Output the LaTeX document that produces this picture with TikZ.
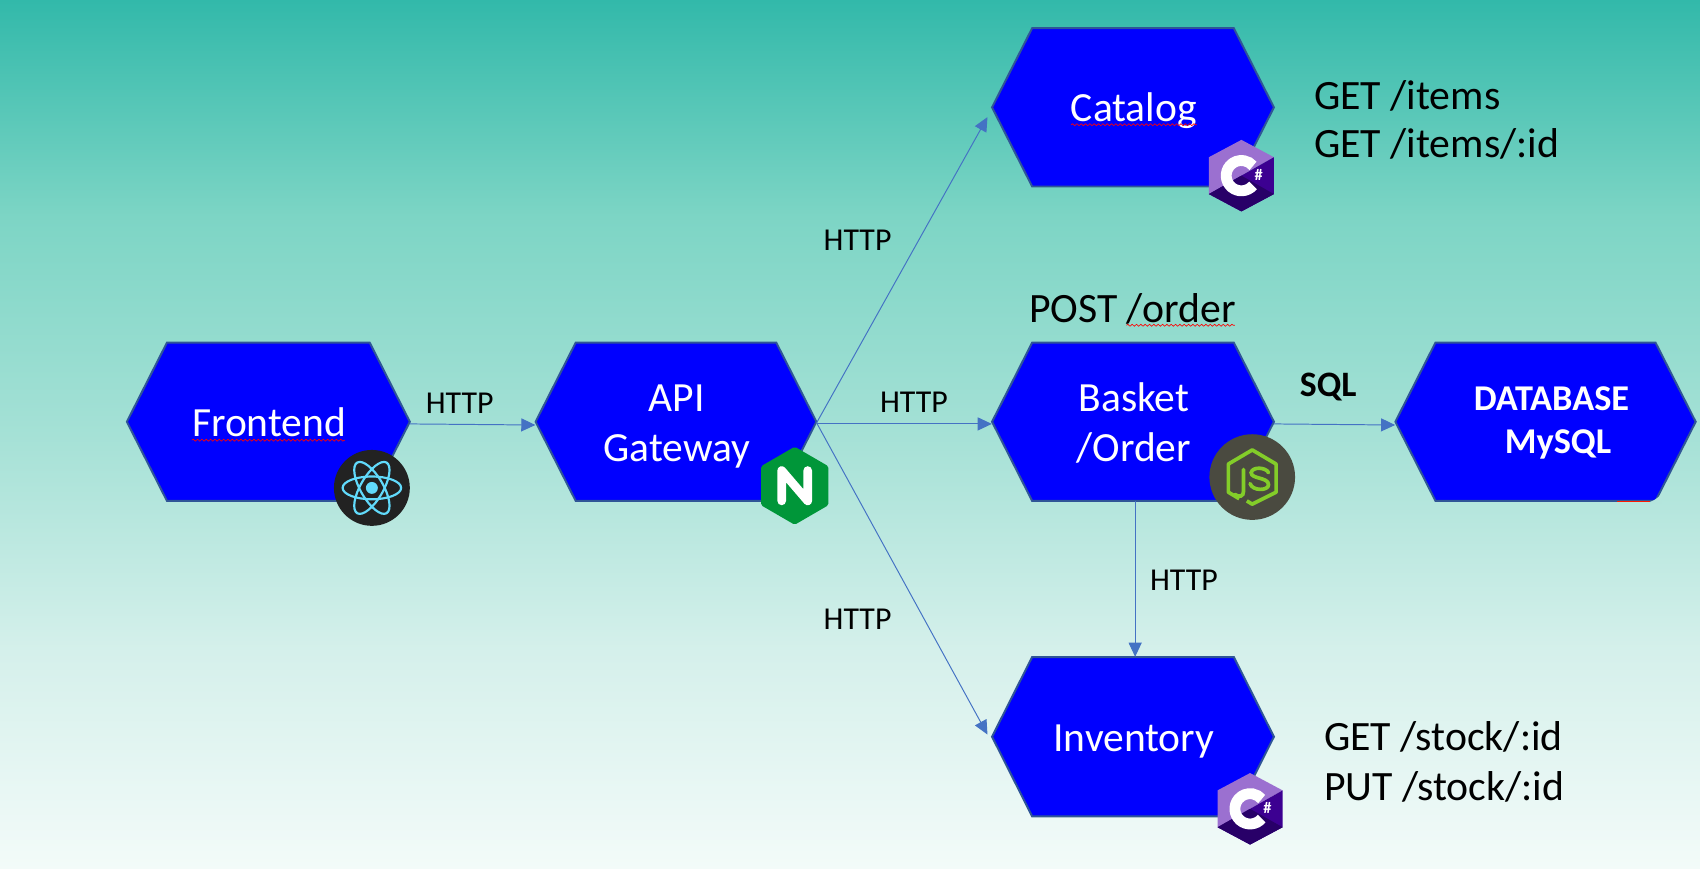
\documentclass[tikz,border=0pt]{standalone}
\usepackage{fontspec}
\setmainfont{Carlito}
\usetikzlibrary{arrows.meta,decorations.pathmorphing}
\definecolor{bg0}{RGB}{50,185,170}
\definecolor{bg1}{RGB}{125,213,197}
\definecolor{bg2}{RGB}{165,225,214}
\definecolor{bg3}{RGB}{213,240,235}
\definecolor{bg4}{RGB}{243,251,249}
\definecolor{hexfill}{RGB}{0,0,255}
\definecolor{hexline}{RGB}{47,85,151}
\definecolor{linkblue}{RGB}{68,114,196}
\definecolor{reactdark}{RGB}{34,34,34}
\definecolor{reactblue}{RGB}{97,218,251}
\definecolor{ngxgreen}{RGB}{0,150,57}
\definecolor{nodegrey}{RGB}{74,74,64}
\definecolor{nodegreen}{RGB}{131,205,41}
\definecolor{cslight}{RGB}{155,112,208}
\definecolor{csdark}{RGB}{60,0,145}
\definecolor{csdeep}{RGB}{40,0,104}
\pgfdeclareverticalshading{bgshade}{100bp}{
  color(0bp)=(bg4); color(25bp)=(bg4); color(37.5bp)=(bg3); color(50bp)=(bg2); color(62.5bp)=(bg1); color(75bp)=(bg0); color(100bp)=(bg0)}
\tikzset{
  x=1pt,y=-1pt,
  hexbox/.style={draw=hexline,line width=1.8pt,fill=hexfill,line join=miter},
  hextext/.style={text=white,font=\fontsize{38.3}{46}\selectfont,align=center,inner sep=0pt},
  link/.style={draw=linkblue,line width=0.9pt,-{Triangle[length=13pt,width=12pt,fill=linkblue]}},
  small/.style={font=\fontsize{29.4}{34}\selectfont,inner sep=0pt,text=black},
  api/.style={font=\fontsize{38.5}{46}\selectfont,inner sep=0pt,text=black,anchor=west},
  spell/.style={draw=red,line width=0.6pt,decorate,decoration={snake,amplitude=0.9pt,segment length=4pt}}
}
% name, left, right, top, bottom, label, label drop
\newcommand{\hexnode}[7]{%
  \draw[hexbox] (#2,{(#4+#5)/2}) -- ({#2+37},#4) -- ({#3-37},#4) -- (#3,{(#4+#5)/2}) -- ({#3-37},#5) -- ({#2+37},#5) -- cycle;
  \node[inner sep=0pt,minimum width={#3-#2},minimum height={#5-#4}] (#1) at ({(#2+#3)/2},{(#4+#5)/2}) {};
  \node[hextext] (#1label) at ([shift={(0.8pt,-#7 pt)}]#1.center) {#6};
}
\newcommand{\csharplogo}[3]{%
  \begin{scope}[shift={(#2,#3)}]
    \fill[cslight] (-30,17) -- (-30,-17) -- (0,-33) -- (30,-17) -- cycle;
    \fill[csdark] (-30,17) -- (30,-17) -- (30,17) -- (0,33) -- cycle;
    \fill[csdeep] (-30,17) -- (0,0) -- (30,17) -- (0,33) -- cycle;
    \draw[white,line width=10pt] (40:14) arc[start angle=40,end angle=320,radius=14];
    \node[text=white,font=\fontsize{15}{15}\selectfont\bfseries,inner sep=0pt] (#1) at (16,-1) {\#};
  \end{scope}
}
\begin{document}
\begin{tikzpicture}
\useasboundingbox (0,0) rectangle (1568,801.5);
\shade[shading=bgshade] (0,0) rectangle (1568,801.5);

\hexnode{front}{117}{378}{316}{462}{Frontend}{0.5}
\hexnode{gate}{494}{753}{316}{462}{API\\Gateway}{4.5}
\hexnode{cat}{915}{1175}{26}{172}{Catalog}{3.5}
\hexnode{basket}{915}{1175}{316}{462}{Basket\\/Order}{1.5}
\hexnode{inv}{915}{1175}{606}{753}{Inventory}{4.5}
\hexnode{db}{1287}{1564}{316}{462}{}{0}

\node[text=white,inner sep=0pt,align=center,font=\fontsize{33.5}{40}\selectfont\bfseries] (dblabel) at (1431,390) {DATABASE\\\hspace*{12pt}MySQL};

% database corner blemish
\fill[bg2!70!bg3] (1536,449) -- (1532,464) -- (1518,464) .. controls (1528,462) and (1533,456) .. (1536,449) -- cycle;
\draw[red!80!orange,line width=0.7pt] (1491,462.5) -- (1522,462.5);

% spell-check underlines
\draw[spell] (177,406) -- (318,406);
\draw[spell] (988,115) -- (1104,115);
\draw[spell] (1039,300) -- (1139,300);

% connectors
\draw[link] ([yshift=-2pt]front.east) -- ([yshift=-3pt]gate.west);
\draw[link] ([yshift=-2pt]gate.east) -- ([yshift=-2pt]basket.west);
\draw[link] ([yshift=-1pt]gate.east) -- ([shift={(-4,9)}]cat.west);
\draw[link] ([yshift=-1pt]gate.east) -- ([shift={(-4,-2)}]inv.west);
\draw[link] ([yshift=-2pt]basket.east) -- ([yshift=-3pt]db.west);
\draw[link] ([xshift=2pt]basket.south) -- ([xshift=2pt]inv.north);

% edge labels
\node[small] (h1) at (424,372) {HTTP};
\node[small] (h2) at (791,222) {HTTP};
\node[small] (h3) at (843,371) {HTTP};
\node[small] (h4) at (791,571) {HTTP};
\node[small] (h5) at (1092,535) {HTTP};
\node[small,font=\fontsize{33}{36}\selectfont\bfseries] (sql) at (1225,357) {SQL};

% API texts
\node[api] (a1) at (1212,88) {GET /items};
\node[api] (a2) at (1212,133) {GET /items/:id};
\node[api] (a3) at (949,285) {POST /order};
\node[api] (a4) at (1221,680) {GET /stock/:id};
\node[api] (a5) at (1221,726) {PUT /stock/:id};

% React logo
\begin{scope}[shift={(343,450)}]
  \fill[reactdark] (0,0) circle[radius=35];
  \foreach \a in {0,60,120}
    \draw[reactblue,line width=2pt,rotate=\a] (0,0) ellipse[x radius=27,y radius=10.5];
  \fill[reactblue] (0,0) circle[radius=5.5];
\end{scope}

% nginx logo
\begin{scope}[shift={(733,448)}]
  \fill[ngxgreen,rounded corners=1.5pt] (0,-36) -- (31,-18) -- (31,18) -- (0,36) -- (-31,18) -- (-31,-18) -- cycle;
  \draw[white,line width=8pt,line cap=round,line join=round] (-12,14) -- (-12,-14) -- (12,14) -- (12,-14);
\end{scope}

% node.js logo
\begin{scope}[shift={(1155,440)}]
  \fill[nodegrey] (0,0) circle[radius=39.5];
  \draw[nodegreen,line width=3.4pt,line join=round]
    (-12,20) -- (-22,14) -- (-22,-12) -- (0,-25) -- (22,-12) -- (22,14) -- (0,25) -- (-5,22);
  \draw[nodegreen,line width=3.4pt,line cap=round]
    (-8,-7) -- (-8,13) .. controls (-8,18) and (-12,19) .. (-16,16);
  \draw[nodegreen,line width=3.4pt,line cap=round]
    (15,-4) .. controls (13,-9) and (0,-10) .. (-1,-4) .. controls (-1,2) and (15,0) .. (15,7) .. controls (15,13) and (0,13) .. (-2,6);
\end{scope}

\csharplogo{cs1}{1145}{162}
\csharplogo{cs2}{1153}{746}
\end{tikzpicture}
\end{document}
